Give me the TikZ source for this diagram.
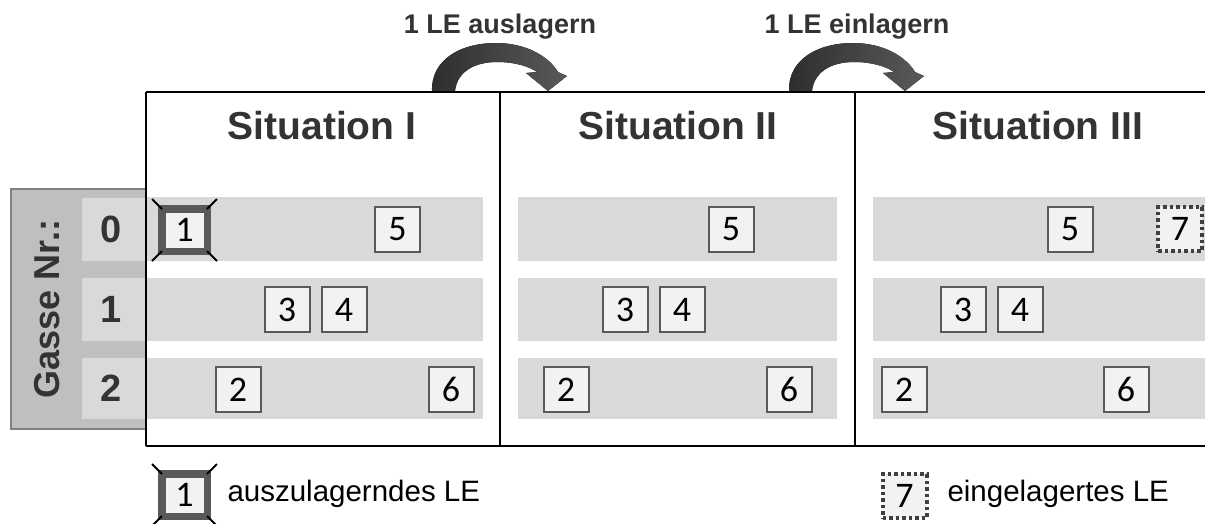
\documentclass[tikz,border=0pt]{standalone}
\usepackage{fontspec}
\setmainfont{Liberation Sans}
\newfontfamily\digfont{Carlito}
\definecolor{bandgray}{HTML}{D9D9D9}
\definecolor{sidegray}{HTML}{BFBFBF}
\definecolor{sideedge}{HTML}{808080}
\definecolor{boxfill}{HTML}{F2F2F2}
\definecolor{boxedge}{HTML}{595959}
\definecolor{dotedge}{HTML}{3F3F3F}
\definecolor{txtdark}{HTML}{333333}
\tikzset{
  band/.style={fill=bandgray,draw=none},
  lebox/.style={draw=boxedge,line width=2pt,fill=boxfill,minimum width=45pt,minimum height=45pt,inner sep=0pt,font=\digfont\fontsize{36}{36}\selectfont},
  outbox/.style={draw=boxedge,line width=7.5pt,fill=boxfill,minimum width=45.5pt,minimum height=42.5pt,inner sep=0pt,font=\digfont\fontsize{36}{36}\selectfont},
  inbox/.style={draw=dotedge,line width=4pt,dash pattern=on 3.5pt off 3pt,fill=boxfill,minimum width=44pt,minimum height=44pt,inner sep=0pt,font=\digfont\fontsize{36}{36}\selectfont},
  title/.style={font=\bfseries\fontsize{39}{39}\selectfont,text=txtdark,anchor=base},
  action/.style={font=\bfseries\fontsize{27}{27}\selectfont,text=txtdark,anchor=base},
  lane/.style={font=\bfseries\fontsize{38}{38}\selectfont,text=txtdark},
  legend/.style={font=\fontsize{29.5}{29.5}\selectfont,anchor=west},
  frame/.style={line width=2pt,black},
  tick/.style={line width=1.8pt,black},
  bigarrow/.style={left color=txtdark!90!black,right color=boxedge,draw=none}
}
\newcommand{\ticks}[1]{%
  \draw[tick] ([shift={(-6pt,6pt)}]#1.north west) -- ([shift={(4pt,-4pt)}]#1.north west);
  \draw[tick] ([shift={(6pt,6pt)}]#1.north east) -- ([shift={(-4pt,-4pt)}]#1.north east);
  \draw[tick] ([shift={(-6pt,-6pt)}]#1.south west) -- ([shift={(4pt,4pt)}]#1.south west);
  \draw[tick] ([shift={(6pt,-6pt)}]#1.south east) -- ([shift={(-4pt,4pt)}]#1.south east);}
\begin{document}
\begin{tikzpicture}[x=1pt,y={(0pt,-1pt)}]
\useasboundingbox (0,0) rectangle (1205,523);
\fill[white] (0,0) rectangle (1205,523);
% side panel
\draw[fill=sidegray,draw=sideedge,line width=2pt] (11,189) rectangle (146,429);
\foreach \r/\ya/\yb in {0/198/261,1/278/341,2/358/419}{
  \fill[bandgray] (82,\ya) rectangle (146,\yb);
  \node[lane] (lane\r) at (111,{(\ya+\yb)/2}) {\r};
}
\node[rotate=90,font=\bfseries\fontsize{36}{36}\selectfont,text=txtdark] (gasse) at (47,309) {Gasse Nr.:};
% bands
\foreach \xa/\xb in {146/483,518/837,873/1205}{
  \fill[bandgray] (\xa,197) rectangle (\xb,261);
  \fill[bandgray] (\xa,278) rectangle (\xb,341);
  \fill[bandgray] (\xa,358) rectangle (\xb,419);
}
% frame
\draw[frame] (146,92) -- (1205,92);
\draw[frame] (146,446) -- (1205,446);
\draw[frame] (146,92) -- (146,446);
\draw[frame] (500,92) -- (500,446);
\draw[frame] (855,92) -- (855,446);
% titles
\node[title] (t1) at (322,139) {Situation I};
\node[title] (t2) at (678,139) {Situation II};
\node[title] (t3) at (1038,139) {Situation III};
% actions
\node[action] (a1) at (500,33) {1 LE auslagern};
\node[action] (a2) at (857,33) {1 LE einlagern};
\foreach \dx in {0,357}{
\begin{scope}[xshift=\dx pt]
\fill[bigarrow] (432,91) .. controls (431,60) and (460,43) .. (496,43)
  .. controls (527,43) and (549,57) .. (558,72) -- (567,76) -- (548,91) -- (526,73) -- (537,72)
  .. controls (530,67) and (516,62) .. (497,62)
  .. controls (474,62) and (457,72) .. (455,91) -- cycle;
\end{scope}}
% Situation I
\node[outbox] (s1a) at (184.5,230) {1};
\ticks{s1a}
\node[lebox] (s1e) at (397.5,229.5) {5};
\node[lebox] (s1c) at (287,309.5) {3};
\node[lebox] (s1d) at (344,309.5) {4};
\node[lebox] (s1b) at (238,389.5) {2};
\node[lebox] (s1f) at (451,389.5) {6};
% Situation II
\node[lebox] (s2e) at (731,229.5) {5};
\node[lebox] (s2c) at (625,309.5) {3};
\node[lebox] (s2d) at (682,309.5) {4};
\node[lebox] (s2b) at (566,389.5) {2};
\node[lebox] (s2f) at (789,389.5) {6};
% Situation III
\node[lebox] (s3e) at (1070,229.5) {5};
\node[inbox] (s3g) at (1180,229) {7};
\node[lebox] (s3c) at (963,309.5) {3};
\node[lebox] (s3d) at (1020,309.5) {4};
\node[lebox] (s3b) at (904,389.5) {2};
\node[lebox] (s3f) at (1126,389.5) {6};
% legend
\node[outbox] (l1) at (184.5,495) {1};
\ticks{l1}
\node[legend] (l1t) at (224,494) {auszulagerndes LE};
\node[inbox] (l2) at (904.5,496) {7};
\node[legend] (l2t) at (944,494) {eingelagertes LE};
\end{tikzpicture}
\end{document}
